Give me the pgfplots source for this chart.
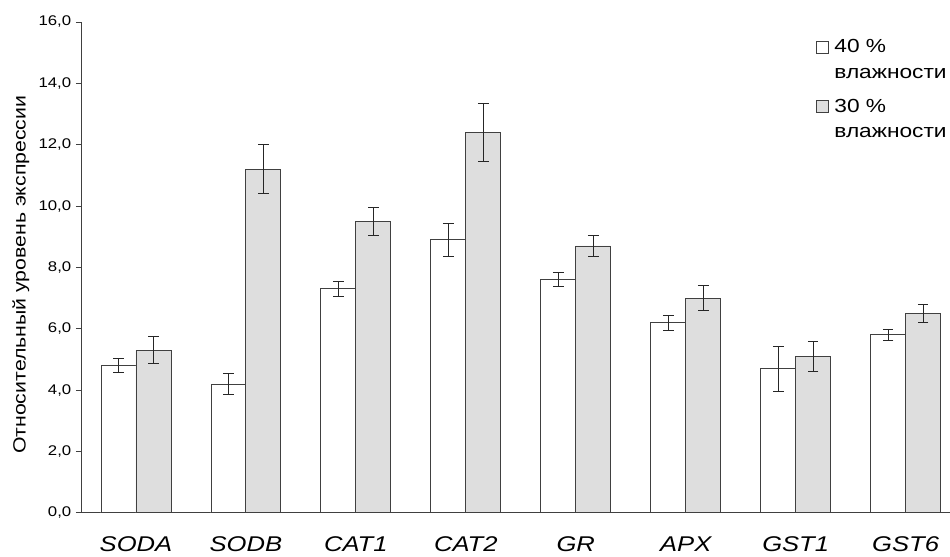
\documentclass[border=0pt]{standalone}
\usepackage{fontspec}
\setmainfont{Liberation Sans}[FakeStretch=1.2]
\usepackage{pgfplots}
\usepackage{pgfplotstable}
\pgfplotsset{compat=1.18}
\definecolor{edge}{HTML}{404040}
\definecolor{fillgrey}{HTML}{DEDEDE}
\pgfplotstableread{
x y1 e1 y2 e2
0 4.8 0.22 5.3 0.44
1 4.2 0.35 11.2 0.80
2 7.3 0.24 9.5 0.47
3 8.9 0.54 12.4 0.93
4 7.6 0.23 8.7 0.35
5 6.2 0.25 7.0 0.41
6 4.7 0.74 5.1 0.50
7 5.8 0.17 6.5 0.30
}\datatable
\begin{document}
\begin{tikzpicture}
\begin{axis}[
  scale only axis,
  width=651.75pt, height=368.25pt,
  xmin=-0.5, xmax=7.4, ymin=0, ymax=16,
  ybar=0pt, bar width=0.318,
  axis x line=bottom, axis y line=left,
  axis line style={draw=edge,-, line width=0.6pt},
  xtick=data,
  xticklabels={SODA,SODB,CAT1,CAT2,GR,APX,GST1,GST6},
  x tick label style={font=\itshape\fontsize{16}{18}\selectfont, yshift=-10.5pt},
  xtick style={draw=none},
  ytick={0,2,...,16},
  yticklabel={\pgfmathprintnumber[fixed,fixed zerofill,precision=1,use comma,assume math mode=true]{\tick}},
  y tick label style={font=\fontsize{10.5}{12}\selectfont},
  tick align=outside,
  major tick length=3.75pt,
  ytick style={draw=edge, line width=0.6pt},
  ylabel={Относительный уровень экспрессии},
  ylabel style={font=\fontsize{13.3}{15}\selectfont, at={(ticklabel cs:0.485)}},
  legend style={at={(1,0.97)}, anchor=north east, draw=none, fill=none,
    font=\fontsize{14.2}{19}\selectfont, cells={align=left, anchor=west},
    row sep=10pt, inner sep=0pt},
  legend image code/.code={\draw[#1,draw=edge, line width=0.5pt] (0pt,4.9pt) rectangle (9pt,13.9pt); \path (11pt,0pt);},
  error bars/error bar style={draw=black!85, line width=0.6pt},
  error bars/error mark options={rotate=90, mark size=4pt, line width=0.6pt, draw=black!85},
]
\addplot[fill=white, draw=edge, line width=0.6pt,
  error bars/.cd, y dir=both, y explicit]
  table[x=x, y=y1, y error=e1] {\datatable};
\addplot[fill=fillgrey, draw=edge, line width=0.6pt,
  error bars/.cd, y dir=both, y explicit]
  table[x=x, y=y2, y error=e2] {\datatable};
\legend{40 \%\\влажности, 30 \%\\влажности}
\end{axis}
\path ([shift={(-60.75pt,16.5pt)}]current axis.north west) rectangle ([shift={(0pt,-28.5pt)}]current axis.south east);
\end{tikzpicture}
\end{document}
